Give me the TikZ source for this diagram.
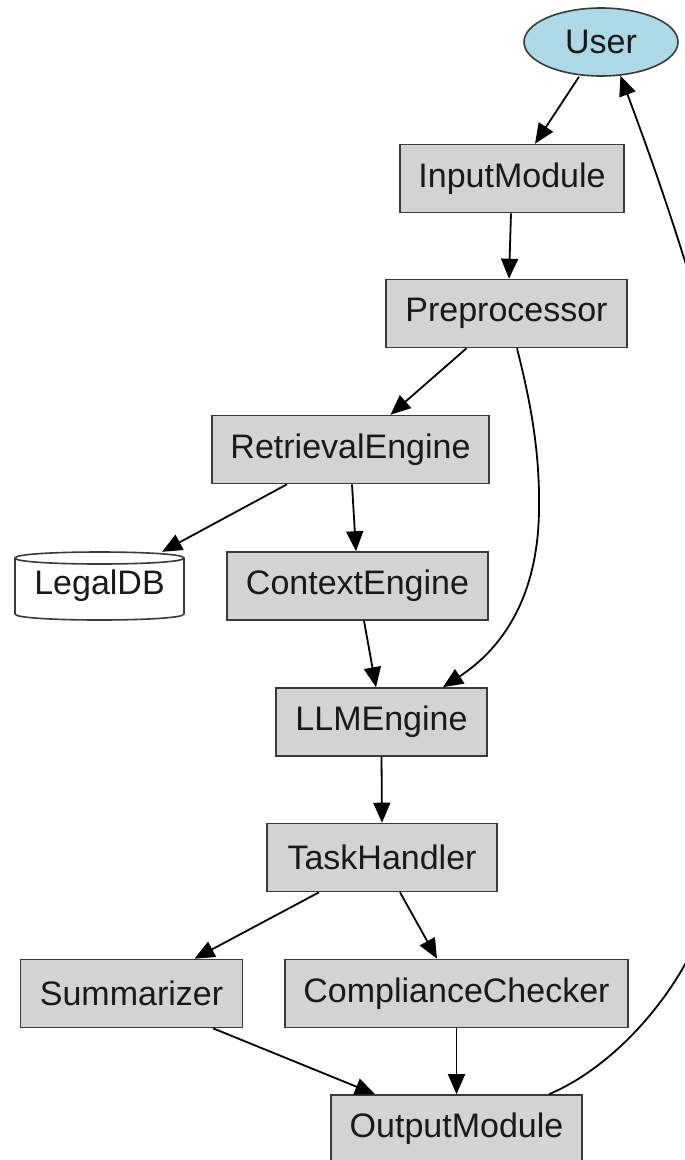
\documentclass[tikz,border=0pt]{standalone}
\usepackage{fontspec}
\setmainfont{Liberation Sans}
\usetikzlibrary{arrows.meta,shapes.geometric}
\definecolor{boxfill}{HTML}{D3D3D3}
\definecolor{userfill}{HTML}{ADD8E6}
\definecolor{rim}{HTML}{3A3A3A}
\begin{document}
\begin{tikzpicture}[x=1pt,y=-1pt,
  label font/.style={font=\fontsize{34}{40}\selectfont, text=black!90},
  module/.style={label font, rectangle, draw=rim, fill=boxfill, line width=1.6pt,
    minimum height=68pt, inner sep=0pt},
  actor/.style={label font, ellipse, draw=rim, fill=userfill, line width=1.6pt,
    minimum width=154pt, minimum height=68pt, inner sep=0pt},
  store/.style={label font, rectangle, minimum width=169pt, minimum height=68pt, inner sep=0pt},
  dbline/.style={draw=rim, line width=1.6pt},
  flow/.style={draw=black, line width=1.8pt, -{Triangle[length=20pt,width=17pt]}}]
\clip (0,0) rectangle (685,1160);
\fill[white] (0,0) rectangle (685,1160);

% nodes
\node[actor]  (user) at (601,42)      {User};
\node[module, minimum width=224pt] (in)   at (512,178.5)   {InputModule};
\node[module, minimum width=241pt] (pre)  at (506.5,313.5) {Preprocessor};
\node[module, minimum width=277pt] (ret)  at (350.5,449.5) {RetrievalEngine};
\node[module, minimum width=261pt] (ctx)  at (357.5,586)   {ContextEngine};
\node[module, minimum width=211pt] (llm)  at (381.5,722)   {LLMEngine};
\node[module, minimum width=230pt] (task) at (382,857.5)   {TaskHandler};
\node[module, minimum width=222pt] (summ) at (131.5,993.5) {Summarizer};
\node[module, minimum width=343pt] (comp) at (456.5,993.5) {ComplianceChecker};
\node[module, minimum width=251pt] (out)  at (456.5,1129)  {OutputModule};

% database cylinder
\path[dbline, fill=white] (15,558) -- (15,614) .. controls (15,622) and (184,622) .. (184,614)
  -- (184,558) .. controls (184,550) and (15,550) .. cycle;
\draw[dbline] (15,558) .. controls (15,566) and (184,566) .. (184,558);
\node[store] (db) at (99.5,586) {LegalDB};

% connectors
\draw[flow] ([xshift=-22pt]user.south) -- ([xshift=23pt]in.north);
\draw[flow] ([xshift=-1pt]in.south) -- ([xshift=2.5pt]pre.north);
\draw[flow] ([xshift=-40pt]pre.south) -- ([xshift=40pt]ret.north);
\draw[flow] ([xshift=10.5pt]pre.south) .. controls (530,400) and (540,450) .. (539,510)
  .. controls (538,600) and (500,650) .. ([xshift=61.5pt]llm.north);
\draw[flow] ([xshift=-63.5pt]ret.south) -- ([xshift=62.5pt]db.north);
\draw[flow] ([xshift=1.5pt]ret.south) -- ([xshift=-1.5pt]ctx.north);
\draw[flow] ([xshift=6.5pt]ctx.south) -- ([xshift=-5.5pt]llm.north);
\draw[flow] (llm.south) -- (task.north);
\draw[flow] ([xshift=-63pt]task.south) -- ([xshift=63pt]summ.north);
\draw[flow] ([xshift=18pt]task.south) -- ([xshift=-19.5pt]comp.north);
\draw[flow] ([xshift=81.5pt]summ.south) -- ([xshift=-81.5pt]out.north);
\draw[flow] (comp.south) -- (out.north);
\draw[flow] ([xshift=92.5pt]out.north) .. controls (630,1060) and (705,960) .. (715,880)
  .. controls (725,800) and (846,677) .. (user.-60);
\end{tikzpicture}
\end{document}
